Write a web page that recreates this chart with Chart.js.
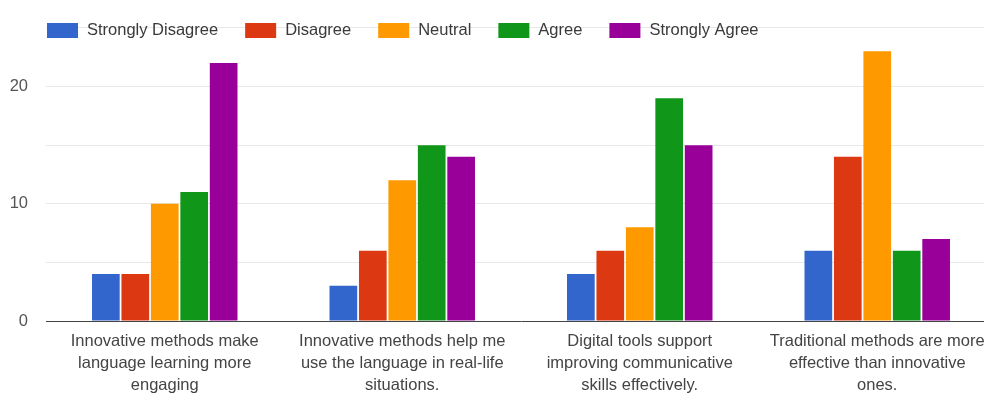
<!DOCTYPE html>
<html>
<head>
<meta charset="utf-8">
<script src="https://cdn.jsdelivr.net/npm/chart.js@4.4.1/dist/chart.umd.min.js"></script>
<style>
  html, body { margin: 0; padding: 0; background: #fff; overflow: hidden; }
  #wrap { width: 1000px; height: 396px; }
</style>
</head>
<body>
<div id="wrap"><canvas id="surveyChart" width="1000" height="396"></canvas></div>
<script>
const statements = [
  ['Innovative methods make', 'language learning more', 'engaging'],
  ['Innovative methods help me', 'use the language in real-life', 'situations.'],
  ['Digital tools support', 'improving communicative', 'skills effectively.'],
  ['Traditional methods are more', 'effective than innovative', 'ones.']
];
const responseLabels = ['Strongly Disagree', 'Disagree', 'Neutral', 'Agree', 'Strongly Agree'];
const stronglyDisagree = [4, 3, 4, 6];
const disagree = [4, 6, 6, 14];
const neutral = [10, 12, 8, 23];
const agree = [11, 15, 19, 6];
const stronglyAgree = [22, 14, 15, 7];
const yTicks = [0, 10, 20];

const colors = ['#3366cc', '#dc3912', '#ff9900', '#109618', '#990099'];
const seriesValues = [stronglyDisagree, disagree, neutral, agree, stronglyAgree];
const FONT = '"Liberation Sans", Arial, sans-serif';

// legend drawn by hand so it can sit over the top of the plot like the original
const topLegend = {
  id: 'topLegend',
  afterDraw(chart) {
    const ctx = chart.ctx;
    ctx.save();
    ctx.font = '16.5px ' + FONT;
    ctx.textBaseline = 'middle';
    let x = 47;
    const y = 30;
    chart.data.datasets.forEach(ds => {
      ctx.fillStyle = ds.backgroundColor;
      ctx.fillRect(x, y - 7, 31, 15);
      ctx.fillStyle = '#3a3a3a';
      ctx.fillText(ds.label, x + 40, y);
      x += 40 + ctx.measureText(ds.label).width + 27;
    });
    ctx.restore();
  }
};

const ctxSurvey = document.getElementById('surveyChart').getContext('2d');
new Chart(ctxSurvey, {
  type: 'bar',
  data: {
    labels: statements,
    datasets: responseLabels.map((name, i) => ({
      label: name,
      data: seriesValues[i],
      backgroundColor: colors[i],
      borderWidth: 0,
      categoryPercentage: 0.62,
      barPercentage: 0.94
    }))
  },
  options: {
    responsive: false,
    animation: false,
    layout: { padding: { top: 21, right: 4, left: 0, bottom: 0 } },
    plugins: {
      legend: { display: false },
      tooltip: { enabled: false }
    },
    scales: {
      x: {
        grid: { display: false, drawTicks: false },
        border: { color: '#444', width: 1 },
        ticks: {
          color: '#444',
          padding: 9,
          maxRotation: 0,
          autoSkip: false,
          font: { family: FONT, size: 16.5, lineHeight: '22px' }
        },
        afterFit: s => { s.height = 75; }
      },
      y: {
        min: 0,
        max: 25,
        border: { display: false },
        grid: {
          drawTicks: false,
          color: c => c.tick.value === 0 ? 'rgba(0,0,0,0)' : '#e8e8e8'
        },
        ticks: {
          stepSize: 5,
          color: '#555',
          padding: 18,
          font: { family: FONT, size: 16.5 },
          callback: v => yTicks.includes(v) ? v : ''
        },
        afterFit: s => { s.width = 46; }
      }
    }
  },
  plugins: [topLegend]
});
</script>
</body>
</html>
